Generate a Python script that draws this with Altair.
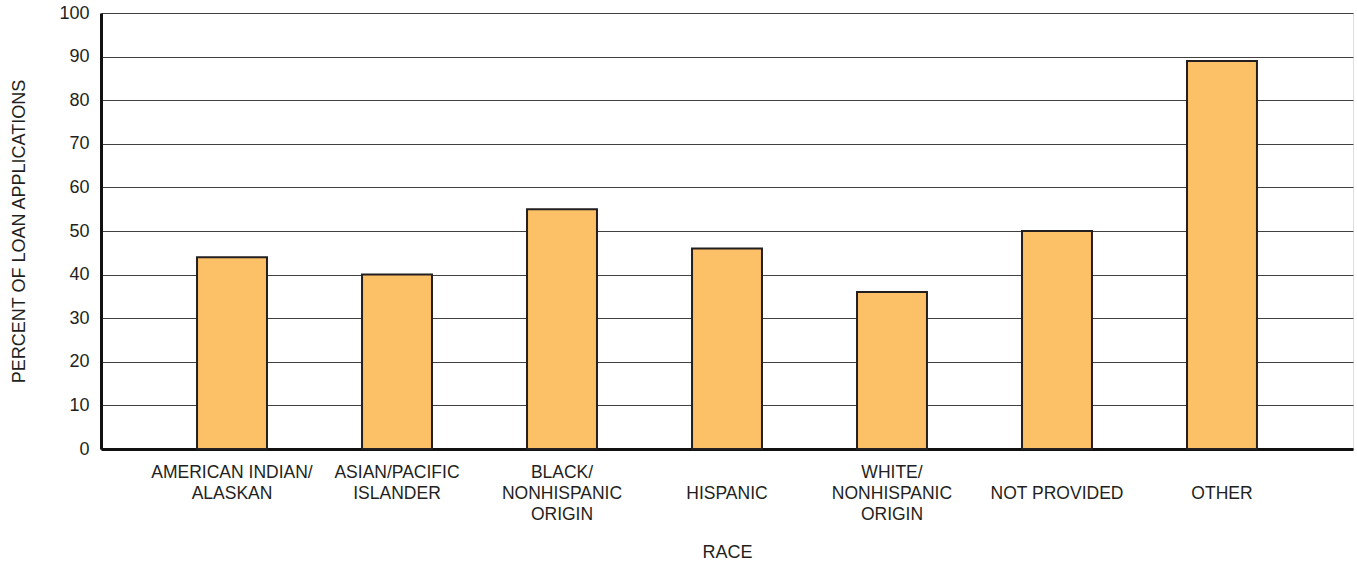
import altair as alt
import pandas as pd

# Share of loan applications by race of applicant
races = [
    "AMERICAN INDIAN/ALASKAN",
    "ASIAN/PACIFIC ISLANDER",
    "BLACK/NONHISPANIC ORIGIN",
    "HISPANIC",
    "WHITE/NONHISPANIC ORIGIN",
    "NOT PROVIDED",
    "OTHER",
]
percents = [44, 40, 55, 46, 36, 50, 89]

# How each category name is broken over lines under the axis
label_lines = [
    ["AMERICAN INDIAN/", "ALASKAN"],
    ["ASIAN/PACIFIC", "ISLANDER"],
    ["BLACK/", "NONHISPANIC", "ORIGIN"],
    ["", "HISPANIC"],
    ["WHITE/", "NONHISPANIC", "ORIGIN"],
    ["", "NOT PROVIDED"],
    ["", "OTHER"],
]

y_ticks = list(range(0, 101, 10))

df = pd.DataFrame({"race": races, "percent": percents})

pairs = ", ".join(
    "'{}': [{}]".format(r, ", ".join("'{}'".format(s) for s in lines))
    for r, lines in zip(races, label_lines)
)
label_expr = "{" + pairs + "}[datum.label]"

FONT = "Liberation Sans"
INK = "#231F20"

chart = (
    alt.Chart(df)
    .mark_bar(color="#FCC067", stroke=INK, strokeWidth=2)
    .encode(
        x=alt.X(
            "race:N",
            sort=races,
            title="RACE",
            scale=alt.Scale(paddingInner=0.576, paddingOuter=0.582),
            axis=alt.Axis(
                labelAngle=0,
                labelExpr=label_expr,
                labelFont=FONT,
                labelFontSize=17.5,
                labelColor=INK,
                labelLineHeight=21,
                labelPadding=14,
                labelBaseline="top",
                ticks=False,
                domainColor="#111111",
                domainWidth=3,
                titleFont=FONT,
                titleFontSize=18,
                titleFontWeight="normal",
                titleColor=INK,
                titleBaseline="middle",
                titleY=103,
                labelLimit=300,
            ),
        ),
        y=alt.Y(
            "percent:Q",
            title="PERCENT OF LOAN APPLICATIONS",
            scale=alt.Scale(domain=[0, 100], nice=False),
            axis=alt.Axis(
                values=y_ticks,
                labelFont=FONT,
                labelFontSize=18,
                labelColor=INK,
                labelPadding=12,
                ticks=False,
                domainColor="#111111",
                domainWidth=3,
                grid=True,
                gridColor="#404040",
                gridWidth=1.2,
                titleFont=FONT,
                titleFontSize=18,
                titleFontWeight="normal",
                titleColor=INK,
                titlePadding=30,
            ),
        ),
    )
    .properties(
        width=1252,
        height=436,
        autosize=alt.AutoSizeParams(type="none"),
        padding={"left": 101, "top": 13, "right": 4, "bottom": 118},
    )
    .configure_view(stroke=INK, strokeWidth=1.5)
    .configure(background="white")
)

chart.save("out.html", embed_options={"renderer": "svg", "actions": False})
